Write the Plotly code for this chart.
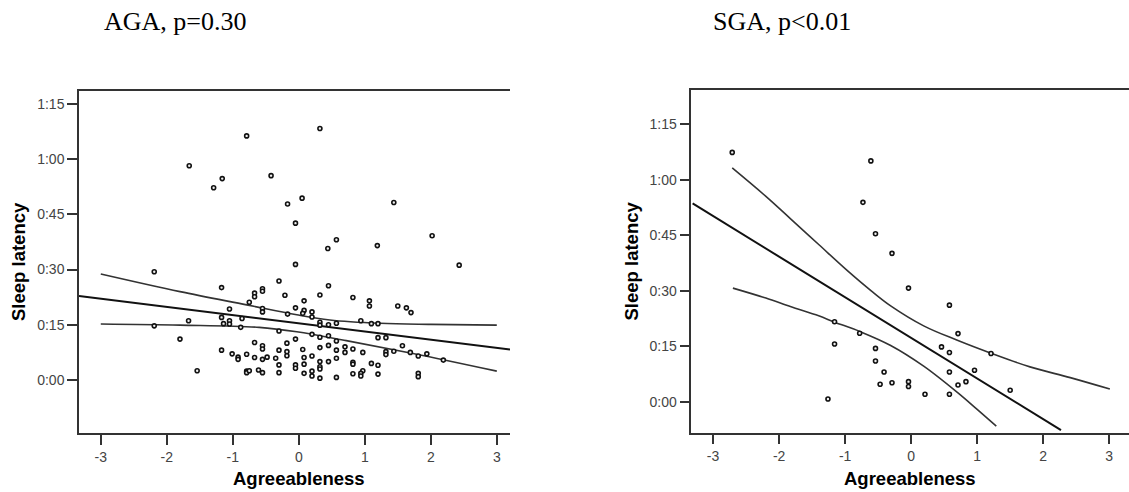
import plotly.graph_objects as go

# ---------------- data (minutes, agreeableness z-score) ----------------
aga_x = [-0.79, -1.66, -1.29, -1.16, -2.19, 0.32, -0.42, 0.05, -0.17, 1.44, -0.05, 0.57, 0.44, 1.19,
         2.02, -0.05, 2.43, -0.30,
         -1.17, 0.45, -0.67, -0.67, -0.55, -0.55, -0.21, 0.32, 0.82, 0.08, 1.07, 1.07, -0.75, 1.50,
         1.63, 1.70, -1.05, -0.55, -0.55, -0.05, 0.08, 0.20, 0.20, 0.06, -0.17, -1.17, -0.86, -1.05,
         -1.05, -1.14, -1.67, -0.88, -0.30, 0.32, 0.32, 0.45, 0.57, 0.94, 1.10, 1.20, -2.19,
         0.20, 0.32, 0.45, 1.20, 1.32, -0.05, -1.80, 0.57, -0.67, -0.18, 1.57, -1.17, -0.55, -0.55,
         -0.30, -0.18, -0.18, 0.06, 0.32, 0.45, 0.57, 0.70, 0.70, 0.82, 0.97, 1.32, 1.32, 1.44, 1.69,
         1.81, 1.94, 2.19, -1.01, -0.92, -0.92, -0.79, -0.67, -0.55, -0.48, -0.35, -0.30, -0.05,
         -0.05, 0.08, 0.08, 0.20, 0.32, 0.32, 0.32, 0.45, 0.57, 0.82, 0.82, 1.10, 1.20, 0.97, 0.94,
         0.94, 0.82, 1.20, 1.81, 1.81, 0.57, 0.32, 0.20, 0.20, 0.08, -0.30, -0.55, -0.61, -0.79,
         -0.79, -0.75, -1.54]
aga_y = [66.3, 58.2, 52.2, 54.7, 29.4, 68.3, 55.5, 49.4, 47.8, 48.2, 42.6, 38.1, 35.7, 36.5,
         39.2, 31.4, 31.2, 26.9,
         25.1, 25.6, 23.6, 22.6, 24.8, 24.1, 23.0, 23.1, 22.4, 21.5, 21.5, 20.1, 21.1, 20.1,
         19.6, 18.3, 19.3, 19.4, 18.5, 19.6, 18.9, 18.5, 17.1, 18.1, 17.9, 17.0, 16.7, 16.1,
         15.2, 15.3, 16.1, 14.3, 13.3, 15.7, 14.9, 15.0, 15.4, 16.1, 15.3, 15.3, 14.7,
         12.4, 11.6, 12.0, 11.5, 11.5, 11.1, 11.1, 10.6, 10.2, 10.0, 9.3, 8.1, 9.3, 8.4,
         8.1, 7.7, 6.6, 8.3, 8.8, 9.4, 8.1, 9.0, 7.5, 8.4, 7.5, 7.7, 6.9, 7.8, 7.5,
         6.5, 7.1, 5.4, 7.1, 6.2, 5.6, 7.0, 6.1, 5.6, 6.2, 5.9, 4.1, 4.1,
         3.2, 6.1, 4.3, 6.5, 5.0, 3.6, 3.0, 5.0, 5.9, 4.8, 4.3, 4.5, 4.0, 2.5, 1.8,
         1.1, 1.7, 1.6, 1.8, 0.9, 0.7, 0.5, 2.4, 1.1, 1.8, 2.0, 2.0, 2.7, 2.4,
         2.0, 2.5, 2.5]

aga_fit_x = [-3.33, 3.20]
aga_fit_y = [22.8, 8.3]
aga_ci_hi_x = [-3.0, -1.8, -0.79, -0.03, 0.47, 1.23, 2.0, 3.0]
aga_ci_hi_y = [28.8, 24.0, 20.4, 17.7, 16.3, 15.4, 15.1, 14.9]
aga_ci_lo_x = [-3.0, -1.8, -0.6, -0.03, 0.72, 1.73, 3.0]
aga_ci_lo_y = [15.2, 14.9, 14.3, 13.1, 10.7, 7.2, 2.4]

sga_x = [-2.71, -0.61, -0.73, -0.54, -0.29, -0.04, 0.58, -1.16, -0.78, 0.71, -1.16, -0.54, 0.46,
         0.58, 1.21, -0.54, -0.41, 0.58, 0.96, -0.47, -0.29, -0.04, -0.04, 0.83, 0.71, 0.21, 0.58,
         1.50, -1.26]
sga_y = [67.4, 65.1, 53.9, 45.4, 40.1, 30.7, 26.1, 21.6, 18.5, 18.4, 15.6, 14.4, 14.8,
         13.3, 13.0, 11.0, 8.0, 8.0, 8.5, 4.7, 5.1, 5.4, 4.1, 5.4, 4.5, 2.0, 2.0,
         3.1, 0.7]

sga_fit_x = [-3.31, 2.27]
sga_fit_y = [53.6, -7.7]
sga_ci_hi_x = [-2.71, -2.2, -1.83, -1.4, -0.97, -0.6, -0.31, 0.19, 0.70, 1.21, 1.8, 2.41, 3.01]
sga_ci_hi_y = [63.2, 55.5, 49.5, 42.5, 35.5, 29.9, 25.9, 20.5, 16.6, 13.1, 9.4, 6.5, 3.4]
sga_ci_lo_x = [-2.70, -2.2, -1.83, -1.4, -1.16, -0.78, -0.31, 0.19, 0.70, 1.0, 1.29]
sga_ci_lo_y = [30.7, 28.0, 25.7, 23.2, 21.5, 19.0, 15.2, 9.6, 2.5, -2.1, -6.6]

x_ticks = [-3, -2, -1, 0, 1, 2, 3]
x_labels = ["-3", "-2", "-1", "0", "1", "2", "3"]
y_ticks = [0, 15, 30, 45, 60, 75]
y_labels = ["0:00", "0:15", "0:30", "0:45", "1:00", "1:15"]

titles = ["AGA, p=0.30", "SGA, p<0.01"]
x_title = "Agreeableness"
y_title = "Sleep latency"

# ---------------- figure ----------------
W, H = 1129, 492
fig = go.Figure()

marker = dict(symbol="circle", size=4, color="#f0f0f0", line=dict(color="#111111", width=1.6))
line_fit = dict(color="#111111", width=2)
line_ci = dict(color="#333333", width=1.6)

def add_panel(xa, ya, px, py, fx, fy, hx, hy, lx, ly):
    fig.add_trace(go.Scatter(x=hx, y=hy, mode="lines", line=line_ci, line_shape="spline",
                             xaxis=xa, yaxis=ya, showlegend=False, hoverinfo="skip"))
    fig.add_trace(go.Scatter(x=lx, y=ly, mode="lines", line=line_ci, line_shape="spline",
                             xaxis=xa, yaxis=ya, showlegend=False, hoverinfo="skip"))
    fig.add_trace(go.Scatter(x=fx, y=fy, mode="lines", line=line_fit,
                             xaxis=xa, yaxis=ya, showlegend=False, hoverinfo="skip"))
    fig.add_trace(go.Scatter(x=px, y=py, mode="markers", marker=marker,
                             xaxis=xa, yaxis=ya, showlegend=False))

add_panel("x", "y", aga_x, aga_y, aga_fit_x, aga_fit_y, aga_ci_hi_x, aga_ci_hi_y, aga_ci_lo_x, aga_ci_lo_y)
add_panel("x2", "y2", sga_x, sga_y, sga_fit_x, sga_fit_y, sga_ci_hi_x, sga_ci_hi_y, sga_ci_lo_x, sga_ci_lo_y)

tickfont = dict(family="Liberation Sans, Arial, sans-serif", size=14, color="#444444")
xcommon = dict(tickvals=x_ticks, ticktext=x_labels, ticks="outside", ticklen=10, tickwidth=2,
               tickcolor="#333333", showline=True, linecolor="#333333", linewidth=1.5, mirror=True,
               showgrid=False, zeroline=False, tickfont=tickfont, fixedrange=True)
ycommon = dict(tickvals=y_ticks, ticktext=y_labels, ticks="outside", ticklen=10, tickwidth=2,
               tickcolor="#333333", showline=True, linecolor="#333333", linewidth=1.5, mirror=False,
               showgrid=False, zeroline=False, tickfont=tickfont, fixedrange=True)

def px2x(p):
    return p / W

def py2y(p):
    return 1 - p / H

fig.update_layout(
    width=W, height=H, margin=dict(l=0, r=0, t=0, b=0),
    paper_bgcolor="white", plot_bgcolor="white",
    xaxis=dict(domain=[px2x(79), px2x(510)], range=[-3.33, 3.2], anchor="y", **xcommon),
    yaxis=dict(domain=[py2y(433), py2y(91)], range=[-14.4, 78.5], anchor="x", **ycommon),
    xaxis2=dict(domain=[px2x(691.3), 1.0], range=[-3.33, 3.3], anchor="y2", **xcommon),
    yaxis2=dict(domain=[py2y(432.7), py2y(90.3)], range=[-8.4, 84.2], anchor="x2", **ycommon),
)

ann = []
titlefont = dict(family="Liberation Serif, Times New Roman, serif", size=26, color="black")
labfont = dict(family="Liberation Sans, Arial, sans-serif", size=18.5, color="black")
ann.append(dict(text=titles[0], x=px2x(102), y=py2y(22), xref="paper", yref="paper",
                xanchor="left", yanchor="middle", showarrow=False, font=titlefont))
ann.append(dict(text=titles[1], x=px2x(711), y=py2y(22), xref="paper", yref="paper",
                xanchor="left", yanchor="middle", showarrow=False, font=titlefont))
ann.append(dict(text="<b>%s</b>" % x_title, x=px2x(298.5), y=py2y(478), xref="paper", yref="paper",
                xanchor="center", yanchor="middle", showarrow=False, font=labfont))
ann.append(dict(text="<b>%s</b>" % x_title, x=px2x(910), y=py2y(478), xref="paper", yref="paper",
                xanchor="center", yanchor="middle", showarrow=False, font=labfont))
ann.append(dict(text="<b>%s</b>" % y_title, x=px2x(18), y=py2y(262), xref="paper", yref="paper",
                xanchor="center", yanchor="middle", textangle=-90, showarrow=False, font=labfont))
ann.append(dict(text="<b>%s</b>" % y_title, x=px2x(631), y=py2y(261.5), xref="paper", yref="paper",
                xanchor="center", yanchor="middle", textangle=-90, showarrow=False, font=labfont))
fig.update_layout(annotations=ann)

fig.write_html("out.html", config={"displayModeBar": False},
               post_script="document.body.style.margin='0px';document.body.style.overflow='hidden';")
